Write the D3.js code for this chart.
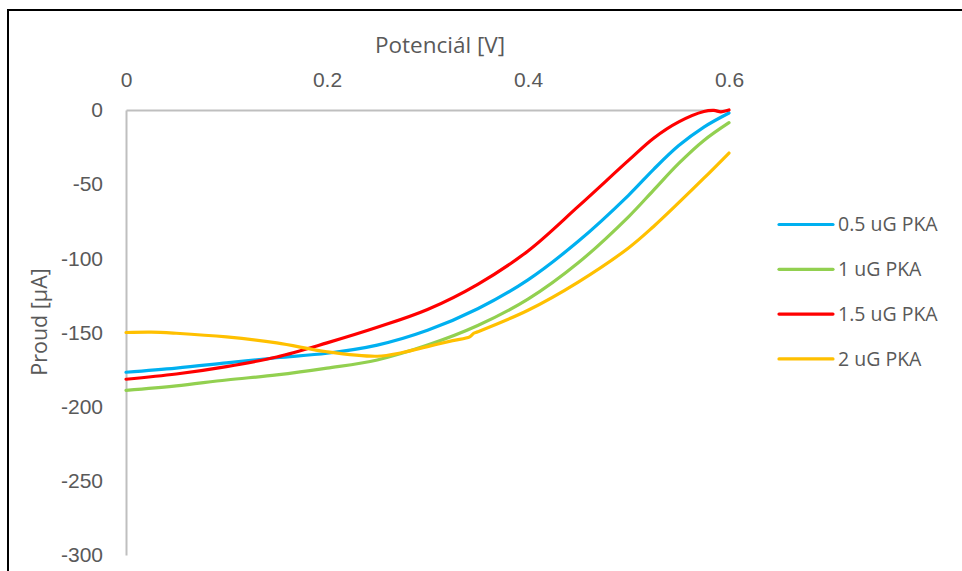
<!DOCTYPE html>
<html>
<head>
<meta charset="utf-8">
<script src="https://cdn.jsdelivr.net/npm/d3@7"></script>
<style>
  html, body { margin: 0; padding: 0; background: #fff; }
  svg { display: block; font-family: "Open Sans", "Liberation Sans", sans-serif; }
</style>
</head>
<body>
<svg id="chart" width="962" height="571"></svg>
<script>
// Potential (V) and current (µA) for each PKA amount
const potential05 = [0, 0.05, 0.1, 0.15, 0.2, 0.25, 0.3, 0.35, 0.4, 0.45, 0.5, 0.525, 0.55, 0.575, 0.6];
const current05   = [-176.8, -174, -170.5, -167, -164, -158.5, -148.5, -134, -114.5, -88.5, -57.5, -40, -24, -11.5, -2];

const potential1 = [0, 0.05, 0.1, 0.15, 0.2, 0.25, 0.3, 0.35, 0.4, 0.45, 0.5, 0.525, 0.55, 0.575, 0.6];
const current1   = [-189, -186, -182, -178.6, -174, -168.5, -158.5, -145.3, -127.5, -103, -72, -54, -36, -20.5, -8.5];

const potential15 = [0, 0.05, 0.1, 0.15, 0.2, 0.25, 0.3, 0.35, 0.4, 0.45, 0.5, 0.525, 0.55, 0.575, 0.585, 0.592, 0.6];
const current15   = [-181.5, -178, -173, -166.5, -157, -146.5, -134.5, -117.5, -95, -65, -34, -19, -8, -1, -0.3, -1.2, 0];

const potential2 = [0, 0.025, 0.05, 0.1, 0.15, 0.2, 0.25, 0.275, 0.3, 0.325, 0.342, 0.346, 0.35, 0.4, 0.45, 0.5, 0.525, 0.55, 0.575, 0.6];
const current2   = [-150, -149.7, -150.5, -153, -157, -163, -166, -163.5, -159.5, -155.5, -153, -150.5, -149.5, -135, -116, -93, -78.5, -62.5, -46, -29];

const seriesNames = ["0.5 uG PKA", "1 uG PKA", "1.5 uG PKA", "2 uG PKA"];
const seriesColors = ["#00b0f0", "#92d050", "#ff0000", "#ffc000"];
const seriesPotential = [potential05, potential1, potential15, potential2];
const seriesCurrent = [current05, current1, current15, current2];

const xTicks = [0, 0.2, 0.4, 0.6];
const yTicks = [0, -50, -100, -150, -200, -250, -300];

const svg = d3.select("#chart");

// outer frame
svg.append("rect")
  .attr("x", 8).attr("y", 10)
  .attr("width", 980).attr("height", 600)
  .attr("fill", "none").attr("stroke", "#000").attr("stroke-width", 2);

const x = d3.scaleLinear().domain([0, 0.6]).range([126, 729]);
const y = d3.scaleLinear().domain([0, -300]).range([110, 555]);

const textColor = "#595959";
const axisColor = "#bfbfbf";

// x axis along zero current, labels above
const xAxis = svg.append("g")
  .attr("transform", `translate(0,${y(0)})`)
  .call(d3.axisTop(x).tickValues(xTicks).tickSize(0).tickPadding(23).tickFormat(d3.format("")));
xAxis.select(".domain").attr("stroke", axisColor).attr("stroke-width", 2);
xAxis.selectAll("text").attr("fill", textColor).style("font-size", "21px");

// y axis at zero potential
const yAxis = svg.append("g")
  .attr("transform", `translate(${x(0)},0)`)
  .call(d3.axisLeft(y).tickValues(yTicks).tickSize(0).tickPadding(23).tickFormat(d => String(d)));
yAxis.select(".domain").attr("stroke", axisColor).attr("stroke-width", 2);
yAxis.selectAll("text").attr("fill", textColor).style("font-size", "21px");

// axis titles
svg.append("text")
  .attr("x", 440).attr("y", 53)
  .attr("text-anchor", "middle")
  .attr("fill", textColor).style("font-size", "22.5px")
  .text("Potenciál [V]");

svg.append("text")
  .attr("transform", "translate(47,322) rotate(-90)")
  .attr("text-anchor", "middle")
  .attr("fill", textColor).style("font-size", "21.5px")
  .text("Proud [µA]");

// curves
const line = d3.line()
  .x(d => x(d[0]))
  .y(d => y(d[1]))
  .curve(d3.curveCatmullRom.alpha(0.5));

seriesCurrent.forEach((vals, i) => {
  svg.append("path")
    .datum(seriesPotential[i].map((p, j) => [p, vals[j]]))
    .attr("fill", "none")
    .attr("stroke", seriesColors[i])
    .attr("stroke-width", 3.2)
    .attr("stroke-linejoin", "round")
    .attr("stroke-linecap", "round")
    .attr("d", line);
});

// legend
const legend = svg.append("g").attr("transform", "translate(779,224.5)");
seriesNames.forEach((name, i) => {
  const g = legend.append("g").attr("transform", `translate(0,${i * 44.8})`);
  g.append("line")
    .attr("x1", 0).attr("x2", 54).attr("y1", 0).attr("y2", 0)
    .attr("stroke", seriesColors[i]).attr("stroke-width", 3.2).attr("stroke-linecap", "round");
  g.append("text")
    .attr("x", 59).attr("y", 0).attr("dy", "0.35em")
    .attr("fill", textColor).style("font-size", "19.5px")
    .text(name);
});
</script>
</body>
</html>
